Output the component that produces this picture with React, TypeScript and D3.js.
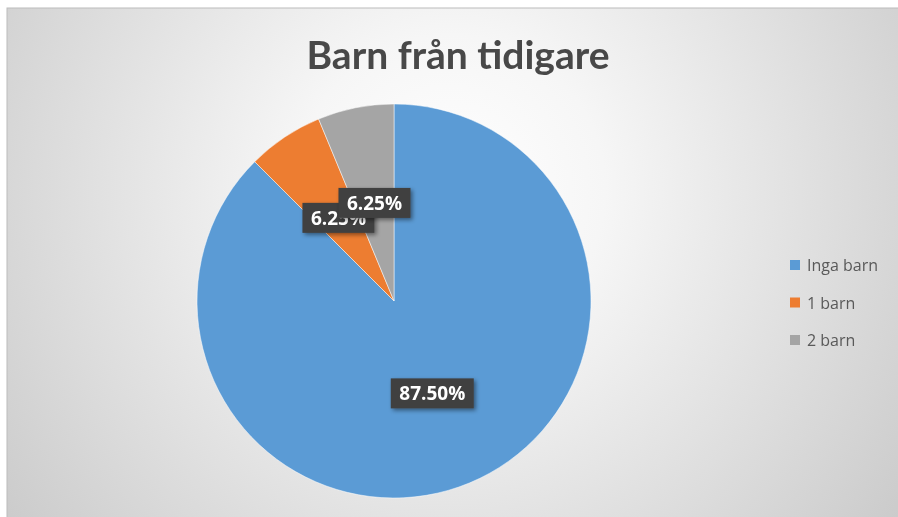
import React, { useEffect, useRef } from 'react'
import * as d3 from 'd3'

const categories = ['Inga barn', '1 barn', '2 barn']
const values = [87.5, 6.25, 6.25]
const labels = ['87.50%', '6.25%', '6.25%']
const colors = ['#5B9BD5', '#ED7D31', '#A5A5A5']

const W = 898
const H = 517

function App() {
  const ref = useRef<SVGSVGElement>(null)

  useEffect(() => {
    const svg = d3.select(ref.current)
    svg.selectAll('*').remove()

    const defs = svg.append('defs')
    const grad = defs.append('radialGradient')
      .attr('id', 'bg').attr('gradientUnits', 'userSpaceOnUse')
      .attr('cx', 450).attr('cy', 190).attr('r', 620)
    grad.append('stop').attr('offset', '0%').attr('stop-color', '#ffffff')
    grad.append('stop').attr('offset', '25%').attr('stop-color', '#f6f6f6')
    grad.append('stop').attr('offset', '100%').attr('stop-color', '#c4c4c4')

    const shadow = defs.append('filter').attr('id', 'sh')
      .attr('x', '-20%').attr('y', '-30%').attr('width', '150%').attr('height', '170%')
    shadow.append('feDropShadow').attr('dx', 2).attr('dy', 2)
      .attr('stdDeviation', 2).attr('flood-color', '#000').attr('flood-opacity', 0.45)

    // background, cut off at right and bottom like the screenshot
    svg.append('rect').attr('x', 7).attr('y', 8).attr('width', W + 10).attr('height', H + 10)
      .attr('fill', 'url(#bg)').attr('stroke', '#bcbcbc').attr('stroke-width', 1)

    svg.append('text')
      .attr('x', 458).attr('y', 69)
      .attr('text-anchor', 'middle')
      .attr('font-family', 'Lato, "Open Sans", sans-serif')
      .attr('font-weight', 700).attr('font-size', 39)
      .attr('fill', '#484848')
      .text('Barn från tidigare')

    const cx = 394, cy = 301, r = 197
    const pie = d3.pie<number>().sort(null).value(d => d)
    const arcs = pie(values)
    const arc = d3.arc<d3.PieArcDatum<number>>().innerRadius(0).outerRadius(r)
    const labelArc = d3.arc<d3.PieArcDatum<number>>().innerRadius(100).outerRadius(100)

    const g = svg.append('g').attr('transform', `translate(${cx},${cy})`)
    g.selectAll('path').data(arcs).join('path')
      .attr('d', arc)
      .attr('fill', (d, i) => colors[i])
      .attr('stroke', '#ffffff').attr('stroke-width', 0.5)

    const lg = g.selectAll('g.lbl').data(arcs).join('g').attr('class', 'lbl')
      .attr('transform', d => {
        const [x, y] = labelArc.centroid(d)
        return `translate(${x},${y})`
      })
    lg.each(function (d, i) {
      const sel = d3.select(this)
      const bw = labels[i].length > 5 ? 83 : 72
      sel.append('rect')
        .attr('x', -bw / 2).attr('y', -15).attr('width', bw).attr('height', 30)
        .attr('fill', '#404040').attr('filter', 'url(#sh)')
      sel.append('text')
        .attr('text-anchor', 'middle').attr('dy', 7)
        .attr('font-family', '"Open Sans", Lato, sans-serif')
        .attr('font-weight', 700).attr('font-size', 19)
        .attr('fill', '#ffffff')
        .text(labels[i])
    })

    const legend = svg.append('g').attr('transform', 'translate(790,265)')
    const item = legend.selectAll('g').data(categories).join('g')
      .attr('transform', (d, i) => `translate(0,${i * 37.5})`)
    item.append('rect').attr('x', 0).attr('y', -5).attr('width', 10).attr('height', 10)
      .attr('fill', (d, i) => colors[i])
    item.append('text').attr('x', 17).attr('y', 6)
      .attr('font-family', '"Open Sans", Lato, sans-serif')
      .attr('font-size', 16).attr('fill', '#595959')
      .text(d => d)
  }, [])

  return (
    <svg ref={ref} width={W} height={H}
      style={{ position: 'fixed', left: 0, top: 0, display: 'block' }} />
  )
}

export default App
